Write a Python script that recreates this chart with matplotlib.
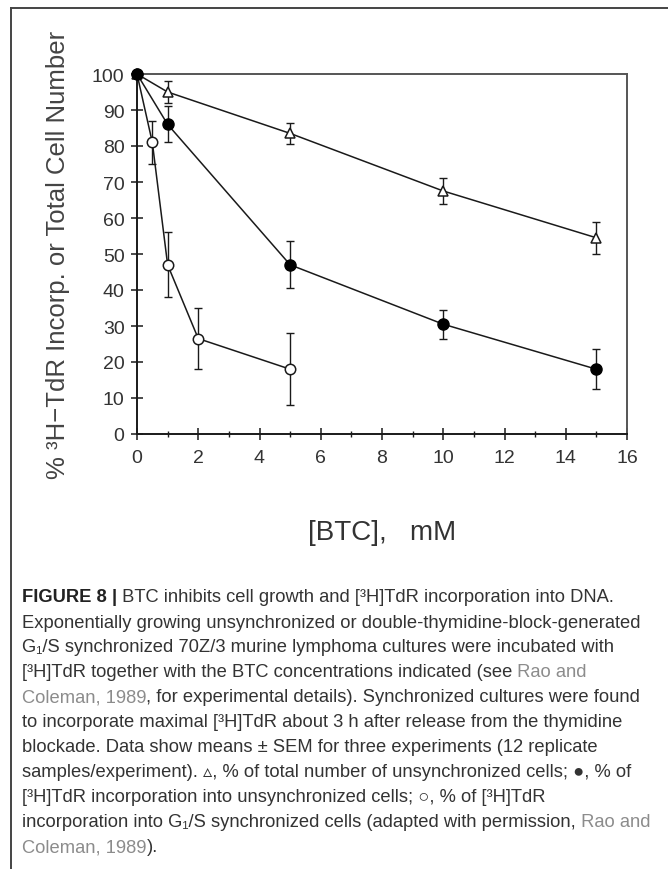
import matplotlib
matplotlib.use("Agg")
import matplotlib.pyplot as plt
from matplotlib.lines import Line2D
from matplotlib.ticker import MultipleLocator

# data (% of control)
btc_open = [0, 0.5, 1, 2, 5]
pct_open = [100, 81, 47, 26.5, 18]
err_open = [0, 6, 9, 8.5, 10]

btc_filled = [0, 1, 5, 10, 15]
pct_filled = [100, 86, 47, 30.5, 18]
err_filled = [0, 5, 6.5, 4, 5.5]

btc_tri = [0, 1, 5, 10, 15]
pct_tri = [100, 95, 83.5, 67.5, 54.5]
err_tri = [0, 3, 3, 3.5, 4.5]

x_ticks = [0, 2, 4, 6, 8, 10, 12, 14, 16]
y_ticks = [0, 10, 20, 30, 40, 50, 60, 70, 80, 90, 100]

caption_lines = [
    [("FIGURE 8 |", "#222222", "bold"),
     (" BTC inhibits cell growth and [³H]TdR incorporation into DNA.", "#333333", "normal")],
    [("Exponentially growing unsynchronized or double-thymidine-block-generated", "#333333", "normal")],
    [("G₁/S synchronized 70Z/3 murine lymphoma cultures were incubated with", "#333333", "normal")],
    [("[³H]TdR together with the BTC concentrations indicated (see", "#333333", "normal"),
     (" Rao and", "#8c8c8c", "normal")],
    [("Coleman, 1989", "#8c8c8c", "normal"),
     (", for experimental details). Synchronized cultures were found", "#333333", "normal")],
    [("to incorporate maximal [³H]TdR about 3 h after release from the thymidine", "#333333", "normal")],
    [("blockade. Data show means ± SEM for three experiments (12 replicate", "#333333", "normal")],
    [("samples/experiment). ▵, % of total number of unsynchronized cells; ●, % of", "#333333", "normal")],
    [("[³H]TdR incorporation into unsynchronized cells; ○, % of [³H]TdR", "#333333", "normal")],
    [("incorporation into G₁/S synchronized cells (adapted with permission,", "#333333", "normal"),
     (" Rao and", "#8c8c8c", "normal")],
    [("Coleman, 1989", "#8c8c8c", "normal"), (").", "#333333", "normal")],
]

plt.rcParams['font.family'] = ['Liberation Sans', 'DejaVu Sans']

fig = plt.figure(figsize=(6.68, 8.70), dpi=100)
W, H = 668, 870
ax = fig.add_axes([137 / W, 1 - 435 / H, 490 / W, 360 / H])

line_kw = dict(color='#1a1a1a', lw=1.1, zorder=2)
eb_kw = dict(fmt='none', ecolor='#1a1a1a', elinewidth=1.0, capsize=2.8, capthick=1.0, zorder=1)

ax.errorbar(btc_tri, pct_tri, yerr=err_tri, **eb_kw)
ax.errorbar(btc_open, pct_open, yerr=err_open, **eb_kw)
ax.errorbar(btc_filled, pct_filled, yerr=err_filled, **eb_kw)

ax.plot(btc_tri, pct_tri, '-', **line_kw)
ax.plot(btc_open, pct_open, '-', **line_kw)
ax.plot(btc_filled, pct_filled, '-', **line_kw)

ax.plot(btc_tri, pct_tri, '^', ms=7, mfc='white', mec='#1a1a1a', mew=1.1, zorder=3, clip_on=False)
ax.plot(btc_open, pct_open, 'o', ms=7.5, mfc='white', mec='#1a1a1a', mew=1.1, zorder=3, clip_on=False)
ax.plot(btc_filled, pct_filled, 'o', ms=8, mfc='black', mec='black', zorder=4, clip_on=False)

ax.set_xlim(0, 16)
ax.set_ylim(0, 100)
ax.set_xticks(x_ticks)
ax.set_yticks(y_ticks)
ax.xaxis.set_minor_locator(MultipleLocator(1))

for side in ['left', 'bottom']:
    ax.spines[side].set_linewidth(1.4)
    ax.spines[side].set_color('#1a1a1a')
for side in ['top', 'right']:
    ax.spines[side].set_linewidth(1.4)
    ax.spines[side].set_color('#555555')

ax.tick_params(axis='both', which='major', direction='inout', length=8, width=1.1,
               color='#1a1a1a', labelsize=14, labelcolor='#333333')
ax.tick_params(axis='y', which='major', pad=5)
ax.tick_params(axis='x', which='major', pad=7)
ax.tick_params(axis='x', which='minor', direction='inout', length=4.5, width=1.0, color='#1a1a1a')

ax.set_xlabel('[BTC],   mM', fontsize=20, color='#333333')
ax.xaxis.set_label_coords(0.5, -0.235)
ax.set_ylabel('% ³H\u2212TdR Incorp. or Total Cell Number', fontsize=18.5, color='#444444')
ax.yaxis.set_label_coords(-0.137, 0.5)

# outer frame of the figure panel
fig.add_artist(Line2D([11 / W, 1.0], [1 - 9 / H, 1 - 9 / H], transform=fig.transFigure,
                      color='#444444', lw=1.4))
fig.add_artist(Line2D([11 / W, 11 / W], [0, 1 - 9 / H], transform=fig.transFigure,
                      color='#444444', lw=1.4))

# caption
cap_font = ['Liberation Sans', 'DejaVu Sans']
cap_size = 13.2
for i, segs in enumerate(caption_lines):
    yc = 1 - (598 + 25 * i) / H
    prev = None
    for text, color, weight in segs:
        if prev is None:
            prev = ax.annotate(text, xy=(22 / W, yc), xycoords='figure fraction',
                               va='center', ha='left', fontsize=cap_size, color=color,
                               fontweight=weight, family=cap_font, annotation_clip=False)
        else:
            prev = ax.annotate(text, xy=(1, 0), xycoords=prev, va='bottom', ha='left',
                               fontsize=cap_size, color=color, fontweight=weight,
                               family=cap_font, annotation_clip=False)

fig.savefig('out.png', dpi=100)
